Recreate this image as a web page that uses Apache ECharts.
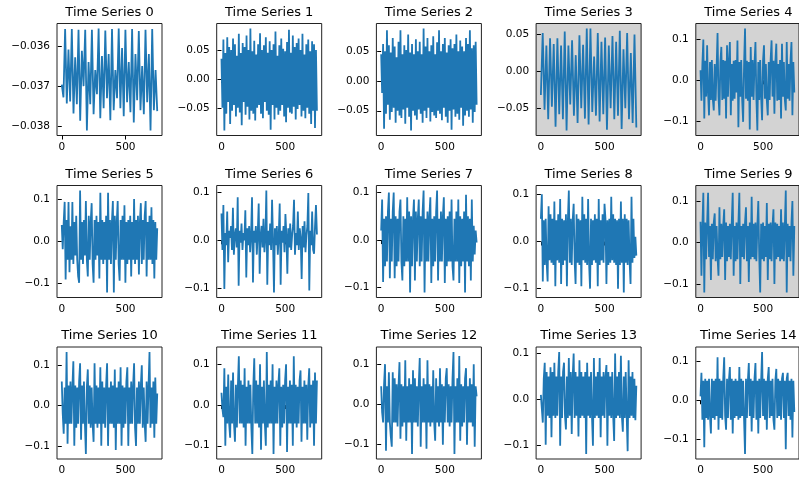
<!DOCTYPE html>
<html>
<head>
<meta charset="utf-8">
<script src="https://cdn.jsdelivr.net/npm/echarts@6/dist/echarts.min.js"></script>
<style>
  html, body { margin: 0; padding: 0; background: #fff; }
  #chart { width: 799px; height: 478px; }
</style>
</head>
<body>
<div id="chart"></div>
<script>
// sampled readings of each trace (time index 0..749)
const titles = ["Time Series 0", "Time Series 1", "Time Series 2", "Time Series 3", "Time Series 4",
  "Time Series 5", "Time Series 6", "Time Series 7", "Time Series 8", "Time Series 9",
  "Time Series 10", "Time Series 11", "Time Series 12", "Time Series 13", "Time Series 14"]

const s0 = [-0.03696, -0.03728,
  -0.03558, -0.03743, -0.03609, -0.03738, -0.03558, -0.03768, -0.03628, -0.03745,
  -0.03560, -0.03786, -0.03612, -0.03700, -0.03560, -0.03810, -0.03640, -0.03745,
  -0.03560, -0.03770, -0.03660, -0.03720, -0.03557, -0.03780, -0.03625, -0.03755,
  -0.03562, -0.03730, -0.03620, -0.03785, -0.03558, -0.03760, -0.03660, -0.03730,
  -0.03557, -0.03755, -0.03605, -0.03775, -0.03560, -0.03740, -0.03640, -0.03765,
  -0.03558, -0.03790, -0.03620, -0.03735, -0.03563, -0.03760, -0.03650, -0.03770,
  -0.03560, -0.03740, -0.03620, -0.03810, -0.03558, -0.03760, -0.03660, -0.03762]

const s1 = [0.035, -0.050, 0.068, -0.089, 0.045, -0.060, 0.072, -0.040, 0.055, -0.078,
  0.050, -0.055, 0.070, -0.045, 0.060, -0.065, 0.040, -0.050, 0.078, -0.058,
  0.045, -0.080, 0.062, -0.040, 0.055, -0.062, 0.075, -0.048, 0.050, -0.070,
  0.087, -0.055, 0.048, -0.060, 0.066, -0.072, 0.042, -0.050, 0.060, -0.045,
  0.079, -0.060, 0.050, -0.068, 0.058, -0.040, 0.072, -0.055, 0.045, -0.062,
  0.065, -0.088, 0.050, -0.045, 0.060, -0.070, 0.082, -0.050, 0.040, -0.062,
  0.058, -0.055, 0.070, -0.045, 0.052, -0.065, 0.048, -0.075, 0.064, -0.050,
  0.085, -0.058, 0.045, -0.060, 0.075, -0.048, 0.055, -0.070, 0.062, -0.052,
  0.070, -0.045, 0.050, -0.065, 0.078, -0.055, 0.042, -0.068, 0.060, -0.050,
  0.068, -0.060, 0.048, -0.078, 0.065, -0.055, 0.060, -0.085, 0.050, -0.055]

const s2 = [0.045, -0.020, 0.062, -0.080, 0.050, -0.055, 0.085, -0.040, 0.060, -0.065,
  0.048, -0.052, 0.072, -0.045, 0.058, -0.070, 0.040, -0.050, 0.066, -0.058,
  0.085, -0.062, 0.045, -0.048, 0.060, -0.072, 0.052, -0.045, 0.078, -0.060,
  0.048, -0.083, 0.062, -0.050, 0.045, -0.058, 0.070, -0.065, 0.050, -0.048,
  0.066, -0.055, 0.045, -0.070, 0.088, -0.050, 0.058, -0.062, 0.072, -0.045,
  0.050, -0.068, 0.060, -0.052, 0.075, -0.058, 0.045, -0.062, 0.065, -0.050,
  0.085, -0.055, 0.050, -0.066, 0.062, -0.045, 0.072, -0.060, 0.048, -0.070,
  0.060, -0.050, 0.070, -0.082, 0.055, -0.048, 0.062, -0.060, 0.078, -0.055,
  0.050, -0.065, 0.068, -0.045, 0.058, -0.075, 0.050, -0.058, 0.072, -0.050,
  0.062, -0.060, 0.085, -0.048, 0.055, -0.070, 0.060, -0.052, 0.066, -0.040]

const s3 = [-0.032,
  0.052, -0.052, 0.035, -0.065, 0.045, -0.048, 0.037, -0.075, 0.045, -0.058,
  0.035, -0.065, 0.054, -0.080, 0.035, -0.045, 0.042, -0.060, 0.022, -0.070,
  0.049, -0.050, 0.036, -0.064, 0.058, -0.072, 0.058, -0.055, 0.020, -0.060,
  0.052, -0.068, 0.040, -0.058, 0.046, -0.079, 0.035, -0.050, 0.048, -0.065,
  0.040, -0.060, 0.055, -0.078, 0.030, -0.050, 0.052, -0.065, 0.025, -0.070,
  0.050, -0.076]

const s4 = [0.025, -0.050, 0.040, 0.100, -0.094, 0.048, -0.040, 0.086, -0.030, -0.086,
  0.045, -0.048, 0.050, -0.045, -0.074, 0.040, -0.050, 0.030, 0.116, -0.040,
  -0.086, 0.045, 0.082, -0.048, 0.050, -0.045, 0.048, -0.094, 0.086, -0.040,
  0.045, 0.094, -0.086, 0.040, -0.050, 0.048, -0.045, 0.050, -0.030, 0.098,
  -0.115, 0.045, -0.040, 0.050, -0.048, -0.102, 0.040, 0.127, -0.045, 0.048,
  -0.050, 0.045, -0.121, 0.082, -0.040, 0.050, -0.048, 0.040, 0.094, -0.045,
  -0.123, 0.045, -0.048, 0.050, -0.040, -0.098, 0.048, 0.086, -0.045, 0.040,
  -0.050, -0.086, 0.045, -0.048, 0.050, 0.098, -0.040, 0.048, -0.082, 0.045,
  0.090, -0.050, 0.040, -0.048, 0.050, -0.094, 0.090, -0.040, 0.045, -0.048,
  -0.074, 0.094, -0.045, 0.040, -0.050, 0.048, 0.094, -0.086, 0.045, -0.030]

const s5 = [0.038, -0.020, 0.045, 0.093, -0.092, 0.050, -0.045, 0.093, -0.075, 0.035,
  -0.045, 0.093, -0.055, 0.045, -0.035, 0.060, -0.045, -0.085, -0.100, 0.120,
  -0.045, 0.045, -0.055, 0.050, -0.035, 0.095, -0.045, -0.085, 0.060, -0.045,
  0.045, 0.090, -0.055, -0.100, 0.050, -0.045, 0.060, -0.035, 0.045, -0.090,
  0.115, -0.045, 0.050, -0.055, 0.045, -0.045, 0.060, -0.123, 0.115, -0.045,
  0.050, -0.055, 0.045, 0.095, -0.123, 0.060, -0.045, 0.045, 0.095, -0.055,
  -0.095, 0.050, -0.045, 0.060, -0.045, 0.085, -0.100, 0.045, -0.055, 0.050,
  -0.045, 0.060, -0.085, 0.045, -0.045, 0.100, -0.055, 0.050, -0.045, 0.060,
  -0.080, 0.045, 0.090, -0.055, 0.050, -0.045, 0.060, 0.095, -0.085, 0.045,
  -0.045, 0.060, -0.045, 0.080, -0.055, 0.050, -0.090, 0.045, -0.045, 0.030]

const s6 = [0.056, -0.020, 0.074, -0.102, 0.015, -0.010, 0.060, -0.046, 0.020, 0.005,
  0.030, -0.020, 0.068, -0.030, 0.010, 0.025, -0.015, 0.090, -0.095, 0.020,
  -0.005, 0.035, -0.020, 0.015, 0.000, 0.063, -0.078, 0.025, -0.010, 0.030,
  -0.025, 0.010, 0.090, -0.088, 0.020, -0.005, 0.030, -0.030, 0.015, 0.077,
  -0.070, 0.010, 0.030, -0.015, 0.045, -0.025, 0.005, 0.104, -0.093, 0.020,
  -0.010, 0.035, -0.020, 0.085, 0.000, -0.109, 0.025, -0.010, 0.030, -0.030,
  0.010, 0.077, -0.093, 0.020, -0.005, 0.030, -0.025, 0.055, 0.010, -0.070,
  0.025, -0.015, 0.035, -0.020, 0.010, 0.030, 0.085, -0.030, 0.015, -0.010,
  0.060, -0.020, 0.025, 0.005, -0.081, 0.030, -0.015, 0.040, -0.025, 0.010,
  0.030, 0.099, -0.105, 0.020, -0.010, 0.060, -0.020, -0.028, 0.030, 0.074, 0.012]

const s7 = [0.020, 0.085, -0.088, 0.045, -0.055, 0.050, -0.045, 0.060, 0.100, -0.080,
  0.045, -0.045, 0.060, 0.100, -0.080, 0.050, -0.055, 0.045, -0.045, 0.060,
  0.085, -0.045, -0.085, 0.050, -0.055, 0.045, -0.045, 0.090, -0.045, 0.060,
  -0.110, 0.050, -0.055, 0.045, 0.085, -0.085, 0.060, -0.045, 0.045, 0.085,
  -0.055, 0.050, -0.045, 0.060, 0.104, -0.110, 0.045, -0.045, 0.060, -0.045,
  0.050, 0.090, -0.090, 0.045, -0.055, 0.050, -0.045, 0.060, 0.104, -0.085,
  0.045, -0.045, 0.060, -0.045, 0.050, 0.090, -0.090, 0.045, -0.055, 0.050,
  -0.045, 0.060, -0.045, 0.085, -0.055, -0.085, 0.045, -0.045, 0.060, -0.045,
  0.085, -0.090, 0.050, -0.055, 0.045, -0.045, 0.060, -0.110, 0.095, -0.045,
  0.050, -0.055, 0.045, -0.085, 0.085, -0.045, 0.030, -0.030, 0.020, -0.005]

const s8 = [0.048, 0.100, -0.085, 0.045, -0.050, 0.048, -0.045, -0.085, 0.075, -0.040,
  0.058, -0.045, 0.048, -0.050, 0.085, -0.095, 0.045, -0.040, 0.058, -0.045,
  0.090, -0.090, 0.048, -0.050, 0.045, -0.040, 0.058, -0.095, 0.045, 0.108,
  -0.045, 0.048, -0.050, 0.045, 0.080, -0.040, -0.090, 0.058, -0.045, 0.048,
  -0.050, 0.045, -0.095, 0.095, -0.040, 0.058, -0.045, 0.048, -0.050, 0.090,
  -0.045, -0.100, 0.048, -0.050, 0.045, -0.040, 0.058, -0.045, 0.048, -0.095,
  0.090, -0.050, 0.045, -0.040, 0.058, -0.045, 0.080, 0.048, -0.090, 0.045,
  -0.050, 0.048, -0.045, 0.095, -0.040, 0.058, -0.045, 0.048, -0.050, 0.045,
  -0.100, 0.048, -0.050, 0.085, -0.045, 0.048, -0.108, 0.058, -0.045, 0.048,
  -0.050, 0.045, -0.040, -0.090, 0.095, -0.045, 0.048, -0.035, 0.010, -0.030]

const s9 = [0.050, -0.080, 0.040, 0.120, -0.120, 0.048, -0.040, 0.045, 0.120, -0.035,
  0.040, -0.090, 0.045, -0.040, 0.048, 0.070, -0.045, 0.040, -0.035, -0.080,
  0.085, -0.040, 0.045, -0.035, 0.040, 0.080, -0.090, 0.048, -0.045, 0.040,
  -0.035, 0.045, -0.040, 0.048, 0.120, -0.080, 0.040, -0.045, 0.048, -0.040,
  0.045, 0.120, -0.100, 0.040, -0.035, 0.045, -0.040, 0.048, 0.085, -0.045,
  0.040, -0.095, 0.048, -0.040, 0.110, -0.035, 0.045, -0.040, 0.048, -0.045,
  0.040, 0.100, -0.035, -0.120, 0.045, -0.040, 0.048, -0.045, 0.040, -0.035,
  0.095, -0.090, 0.045, -0.040, 0.048, -0.045, 0.040, 0.080, -0.100, 0.048,
  -0.040, 0.045, -0.035, 0.040, -0.045, 0.080, -0.040, 0.048, -0.045, 0.040,
  0.125, -0.120, 0.045, -0.035, 0.040, -0.045, 0.048, 0.100, -0.080, 0.040]

const s10 = [0.060, -0.020, -0.070, 0.045, -0.045, 0.133, -0.095, 0.050, -0.045, 0.060,
  -0.045, 0.045, 0.110, -0.100, 0.050, -0.055, 0.045, -0.045, 0.060, 0.105,
  -0.085, 0.050, -0.045, 0.060, -0.045, -0.120, 0.045, 0.090, -0.045, 0.050,
  -0.055, 0.045, -0.045, -0.090, 0.105, -0.045, 0.050, -0.055, 0.045, -0.045,
  0.095, -0.100, 0.060, -0.045, 0.045, -0.055, 0.050, 0.105, -0.100, 0.045,
  -0.045, 0.060, -0.045, 0.050, -0.055, 0.090, -0.110, 0.045, -0.045, 0.060,
  -0.045, 0.095, -0.100, 0.050, -0.055, 0.045, -0.045, 0.060, 0.095, -0.100,
  0.045, -0.045, 0.060, -0.045, 0.050, 0.105, -0.055, -0.100, 0.045, -0.045,
  0.060, -0.045, 0.050, 0.100, -0.055, 0.045, -0.045, -0.090, 0.060, -0.045,
  0.050, 0.133, -0.055, 0.045, -0.045, 0.060, -0.080, 0.070, -0.045, 0.030]

const s11 = [0.030, -0.010, -0.030, 0.090, -0.100, 0.045, -0.045, 0.075, -0.045, -0.080,
  0.060, -0.045, 0.080, -0.045, -0.090, 0.050, -0.055, 0.045, 0.120, -0.045,
  0.060, -0.045, 0.050, -0.055, 0.090, -0.100, 0.045, -0.045, 0.060, -0.045,
  0.050, -0.055, -0.120, 0.045, 0.115, -0.045, 0.060, -0.045, 0.050, -0.055,
  0.100, -0.110, 0.045, -0.045, 0.060, -0.045, -0.100, 0.130, -0.055, 0.050,
  -0.045, 0.060, -0.045, 0.100, -0.120, 0.045, -0.045, 0.060, -0.045, 0.050,
  0.090, -0.100, 0.045, -0.055, 0.050, -0.045, 0.060, 0.100, -0.115, 0.045,
  -0.045, 0.060, -0.045, 0.050, -0.100, 0.120, -0.045, 0.050, -0.055, 0.045,
  -0.045, 0.060, 0.085, -0.090, 0.045, -0.045, 0.060, -0.045, 0.050, -0.085,
  0.045, 0.090, -0.055, 0.050, -0.045, 0.060, -0.100, 0.080, -0.045, 0.060]

const s12 = [0.045, -0.020, -0.045, 0.050, 0.100, -0.115, 0.045, -0.045, 0.080, -0.045,
  -0.080, -0.105, 0.080, -0.045, 0.065, -0.045, 0.050, -0.055, 0.045, 0.105,
  -0.085, 0.050, -0.055, 0.045, -0.045, 0.110, -0.090, 0.045, -0.045, 0.065,
  -0.045, 0.050, -0.123, 0.085, -0.045, 0.065, -0.045, 0.045, -0.055, 0.050,
  0.115, -0.105, 0.045, -0.045, 0.065, -0.045, 0.050, -0.110, 0.110, -0.045,
  0.050, -0.055, 0.045, -0.045, 0.085, -0.045, -0.090, 0.065, -0.045, 0.045,
  -0.055, 0.090, -0.045, 0.050, -0.100, 0.045, -0.045, 0.065, 0.090, -0.045,
  0.050, -0.055, 0.045, -0.045, 0.065, 0.130, -0.123, 0.045, -0.045, 0.065,
  -0.045, 0.120, -0.090, 0.050, -0.055, 0.045, -0.045, 0.065, 0.090, -0.100,
  0.045, -0.045, 0.065, -0.045, 0.050, -0.055, 0.100, -0.105, 0.045, 0.020]

const s13 = [0.010, -0.020, -0.050, 0.045, 0.080, -0.098, 0.060, -0.035, 0.050, -0.040,
  0.070, -0.082, 0.060, -0.035, 0.080, -0.040, 0.050, -0.035, 0.060, 0.103,
  -0.100, 0.050, -0.040, 0.060, 0.080, -0.035, -0.065, 0.050, -0.040, 0.090,
  -0.035, 0.060, -0.075, 0.050, 0.100, -0.040, 0.060, -0.035, 0.050, -0.080,
  0.085, -0.040, 0.060, -0.035, 0.050, -0.040, 0.060, -0.118, 0.080, -0.035,
  0.050, -0.040, 0.060, -0.035, -0.100, 0.090, -0.040, 0.050, -0.035, 0.060,
  -0.040, 0.090, -0.082, 0.050, -0.035, 0.060, -0.040, 0.050, 0.075, -0.100,
  0.060, -0.035, 0.050, -0.040, 0.060, -0.035, -0.090, 0.100, -0.040, 0.050,
  -0.035, 0.060, -0.040, 0.095, -0.035, -0.070, 0.050, -0.040, 0.060, -0.035,
  -0.112, 0.085, -0.040, 0.050, -0.035, 0.060, -0.040, 0.045, -0.045, 0.030]

const s14 = [0.010, 0.070, -0.050, 0.050, -0.120, 0.055, -0.045, 0.050, -0.050, 0.055,
  -0.040, -0.085, 0.055, -0.045, 0.050, -0.050, 0.055, -0.040, 0.110, -0.075,
  0.055, -0.045, 0.050, -0.050, 0.055, 0.110, -0.040, -0.075, 0.055, -0.045,
  0.050, 0.085, -0.050, 0.055, -0.085, 0.050, -0.045, 0.055, -0.040, 0.050,
  -0.050, 0.085, -0.045, 0.055, -0.040, 0.050, -0.050, -0.137, 0.055, -0.045,
  0.050, 0.095, -0.040, 0.055, -0.080, 0.050, -0.045, 0.055, 0.095, -0.050,
  0.050, -0.085, 0.055, -0.045, 0.050, 0.123, -0.040, 0.055, -0.050, 0.050,
  -0.075, 0.055, 0.085, -0.045, 0.050, -0.040, 0.055, -0.050, -0.075, 0.050,
  0.080, -0.045, 0.055, -0.040, 0.050, -0.050, 0.055, 0.070, -0.045, 0.050,
  -0.125, 0.055, 0.070, -0.040, 0.050, -0.050, 0.055, -0.095, 0.050, -0.030]

const yTicks = [
  [-0.038, -0.037, -0.036], [-0.05, 0, 0.05], [-0.05, 0, 0.05], [-0.05, 0, 0.05], [-0.1, 0, 0.1],
  [-0.1, 0, 0.1], [-0.1, 0, 0.1], [-0.1, 0, 0.1], [-0.1, 0, 0.1], [-0.1, 0, 0.1],
  [-0.1, 0, 0.1], [-0.1, 0, 0.1], [-0.1, 0, 0.1], [-0.1, 0, 0.1], [-0.1, 0, 0.1]]
const yDecimals = [3, 2, 2, 2, 1, 1, 1, 1, 1, 1, 1, 1, 1, 1, 1]
const xTicks = [0, 500]
const lastIndex = 749
const greyPanels = [3, 4, 9]

const allSeries = [s0, s1, s2, s3, s4, s5, s6, s7, s8, s9, s10, s11, s12, s13, s14]

const chart = echarts.init(document.getElementById('chart'))
const font = 'DejaVu Sans'
const colLeft = c => 57 + 159.7 * c
const rowTop = [23.5, 185.5, 347]
const gw = 105, gh = 112
const fmt = (v, d) => v.toFixed(d).replace('-', '\u2212')

const grid = [], xAxis = [], yAxis = [], series = [], graphic = []
allSeries.forEach((vals, k) => {
  const r = Math.floor(k / 5), c = k % 5
  const lo = Math.min(...vals), hi = Math.max(...vals)
  const pad = (hi - lo) * 0.05
  grid.push({
    left: colLeft(c), top: rowTop[r], width: gw, height: gh,
    show: true, borderColor: '#222', borderWidth: 1,
    backgroundColor: greyPanels.includes(k) ? '#d3d3d3' : '#fff'
  })
  graphic.push({
    type: 'text', x: colLeft(c) + gw / 2, y: rowTop[r] - 11,
    style: {text: titles[k], font: '13px "DejaVu Sans"', fill: '#000',
      textAlign: 'center', textVerticalAlign: 'middle'}
  })
  xAxis.push({
    type: 'value', gridIndex: k, min: -lastIndex * 0.05, max: lastIndex * 1.05,
    axisLine: {show: false}, splitLine: {show: false},
    axisTick: {show: true, length: 4, customValues: xTicks, lineStyle: {color: '#000'}},
    axisLabel: {customValues: xTicks, margin: 6, fontFamily: font, fontSize: 10.5, color: '#000'}
  })
  yAxis.push({
    type: 'value', gridIndex: k, min: lo - pad, max: hi + pad,
    axisLine: {show: false}, splitLine: {show: false},
    axisTick: {show: true, length: 4, customValues: yTicks[k], lineStyle: {color: '#000'}},
    axisLabel: {customValues: yTicks[k], margin: 7, fontFamily: font, fontSize: 10.5, color: '#000',
      formatter: v => fmt(v, yDecimals[k])}
  })
  const step = lastIndex / (vals.length - 1)
  series.push({
    type: 'line', xAxisIndex: k, yAxisIndex: k, showSymbol: false, animation: false,
    data: vals.map((v, i) => [i * step, v]),
    lineStyle: {color: '#1f77b4', width: 1.8}
  })
})

chart.setOption({animation: false, grid, xAxis, yAxis, series, graphic})
</script>
</body>
</html>
